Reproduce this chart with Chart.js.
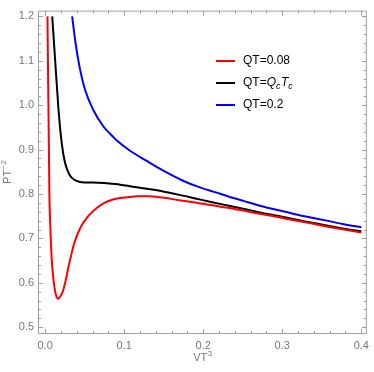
<!DOCTYPE html>
<html><head><meta charset="utf-8">
<script src="https://cdn.jsdelivr.net/npm/chart.js@4.4.0/dist/chart.umd.min.js"></script>
<style>html,body{margin:0;padding:0;background:#fff}#wrap{width:374px;height:372px}</style>
</head><body><div id="wrap"><canvas id="c" width="374" height="372"></canvas></div>
<script>
// ---- data ----
const redX   = [0.003,0.0038,0.0045,0.0054,0.0062,0.007,0.0085,0.010,0.0115,0.013,0.0145,0.016,0.0175,0.019,0.0225,0.026,0.029,0.033,0.037,0.045,0.054,0.065,0.075,0.085,0.095,0.106,0.116,0.131,0.148,0.17,0.19,0.21,0.231,0.252,0.273,0.294,0.315,0.336,0.356,0.378,0.4];
const redY   = [1.2,1.06,0.95,0.80,0.745,0.705,0.65,0.618,0.594,0.578,0.568,0.564,0.565,0.569,0.581,0.605,0.631,0.662,0.690,0.725,0.749,0.768,0.780,0.787,0.791,0.793,0.795,0.795,0.792,0.786,0.781,0.775,0.769,0.762,0.755,0.748,0.741,0.734,0.727,0.720,0.713];
const blackX = [0.009,0.0125,0.0167,0.020,0.023,0.026,0.031,0.037,0.044,0.050,0.060,0.075,0.085,0.095,0.106,0.116,0.131,0.148,0.17,0.19,0.21,0.231,0.252,0.273,0.294,0.315,0.336,0.356,0.378,0.4];
const blackY = [1.2,1.106,0.996,0.93,0.89,0.865,0.843,0.832,0.827,0.826,0.826,0.825,0.823,0.821,0.818,0.815,0.811,0.806,0.798,0.790,0.782,0.774,0.766,0.758,0.751,0.743,0.736,0.729,0.722,0.716];
const blueX  = [0.0342,0.0383,0.0438,0.0508,0.0613,0.0738,0.082,0.0904,0.107,0.128,0.149,0.173,0.194,0.217,0.231,0.252,0.273,0.294,0.315,0.336,0.356,0.378,0.4];
const blueY  = [1.2,1.142,1.084,1.033,0.988,0.952,0.936,0.921,0.898,0.875,0.853,0.831,0.816,0.803,0.795,0.784,0.773,0.764,0.755,0.747,0.740,0.732,0.725];
const seriesNames = ["QT=0.08", "QT=Q_cT_c", "QT=0.2"];
const xTickValues = [0, 0.1, 0.2, 0.3, 0.4];
const yTickValues = [0.5, 0.6, 0.7, 0.8, 0.9, 1.0, 1.1, 1.2];
const minorStep = 0.02;

const pts = (xs, ys) => xs.map((x, i) => ({x: x, y: ys[i]}));
const FONT = "'Liberation Sans', Arial, sans-serif";

const frameTicks = {
  id: 'frameTicks',
  afterDatasetsDraw(chart) {
    const {ctx, chartArea: a, scales: {x, y}} = chart;
    ctx.save();
    ctx.strokeStyle = '#a0a0a0';
    ctx.lineWidth = 1;
    ctx.beginPath();
    ctx.rect(a.left + 0.5, a.top + 0.5, a.right - a.left - 1, a.bottom - a.top - 1);
    ctx.stroke();
    ctx.beginPath();
    for (let v = 0; v <= 0.4001; v += minorStep) {
      const major = Math.abs(v * 10 - Math.round(v * 10)) < 1e-6;
      const L = major ? 5 : 3;
      const px = Math.round(x.getPixelForValue(v)) + 0.5;
      ctx.moveTo(px, a.bottom); ctx.lineTo(px, a.bottom - L);
      ctx.moveTo(px, a.top); ctx.lineTo(px, a.top + L);
    }
    for (let v = 0.5; v <= 1.2001; v += minorStep) {
      const major = Math.abs(v * 10 - Math.round(v * 10)) < 1e-6;
      const L = major ? 5 : 3;
      const py = Math.round(y.getPixelForValue(v)) + 0.5;
      ctx.moveTo(a.left, py); ctx.lineTo(a.left + L, py);
      ctx.moveTo(a.right, py); ctx.lineTo(a.right - L, py);
    }
    ctx.stroke();

    // axis titles with superscripts
    const drawSup = (base, sup, cx, cy) => {
      ctx.font = '11px ' + FONT;
      const w1 = ctx.measureText(base).width;
      ctx.font = '8px ' + FONT;
      const w2 = ctx.measureText(sup).width;
      let sx = cx - (w1 + w2) / 2;
      ctx.textAlign = 'left';
      ctx.textBaseline = 'middle';
      ctx.font = '11px ' + FONT;
      ctx.fillText(base, sx, cy);
      ctx.font = '8px ' + FONT;
      ctx.fillText(sup, sx + w1 + 0.5, cy - 4);
    };
    ctx.fillStyle = '#777';
    drawSup('VT', '3', (a.left + a.right) / 2, 358);
    ctx.save();
    ctx.translate(8, (a.top + a.bottom) / 2);
    ctx.rotate(-Math.PI / 2);
    drawSup('PT', '\u22122', 0, 0);
    ctx.restore();

    // legend
    const colors = ['#ff0000', '#000000', '#0000ff'];
    const rows = [61, 83, 105];
    ctx.textAlign = 'left';
    ctx.textBaseline = 'middle';
    for (let i = 0; i < 3; i++) {
      const yy = rows[i];
      ctx.strokeStyle = colors[i];
      ctx.lineWidth = 2;
      ctx.beginPath(); ctx.moveTo(216, yy); ctx.lineTo(235, yy); ctx.stroke();
      ctx.fillStyle = '#000';
      let xx = 243;
      const name = seriesNames[i];
      ctx.font = '12px ' + FONT;
      if (name.indexOf('_') < 0) {
        ctx.fillText(name, xx, yy);
      } else {
        ctx.fillText('QT=', xx, yy); xx += ctx.measureText('QT=').width;
        const parts = [['Q', false], ['c', true], ['T', false], ['c', true]];
        for (const [s, sub] of parts) {
          ctx.font = 'italic ' + (sub ? '9px ' : '12px ') + FONT;
          ctx.fillText(s, xx, sub ? yy + 3 : yy);
          xx += ctx.measureText(s).width + (sub ? 0.5 : 0);
        }
      }
    }
    ctx.restore();
  }
};

new Chart(document.getElementById('c'), {
  type: 'scatter',
  data: {
    datasets: [
      {label: seriesNames[0], data: pts(redX, redY), borderColor: '#ff0000'},
      {label: seriesNames[1], data: pts(blackX, blackY), borderColor: '#000000'},
      {label: seriesNames[2], data: pts(blueX, blueY), borderColor: '#0000ff'}
    ].map(d => Object.assign(d, {showLine: true, pointRadius: 0, borderWidth: 2, cubicInterpolationMode: 'monotone', fill: false}))
  },
  options: {
    responsive: false, animation: false, devicePixelRatio: 1,
    layout: {padding: {left: 0, right: 3, top: 1, bottom: 0}},
    plugins: {legend: {display: false}, tooltip: {enabled: false}},
    scales: {
      x: {
        type: 'linear', min: -0.009, max: 0.407,
        afterBuildTicks: s => { s.ticks = xTickValues.map(v => ({value: v})); },
        afterFit: s => { s.height = 38; },
        grid: {display: false, drawTicks: false}, border: {display: false},
        ticks: {color: '#777', font: {family: FONT, size: 11}, padding: 5, maxRotation: 0,
                callback: v => v.toFixed(1)}
      },
      y: {
        type: 'linear', min: 0.4847, max: 1.213,
        afterBuildTicks: s => { s.ticks = yTickValues.map(v => ({value: v})); },
        afterFit: s => { s.width = 38; },
        grid: {display: false, drawTicks: false}, border: {display: false},
        ticks: {color: '#777', font: {family: FONT, size: 11}, padding: 4,
                callback: v => v.toFixed(1)}
      }
    }
  },
  plugins: [frameTicks]
});
</script></body></html>
